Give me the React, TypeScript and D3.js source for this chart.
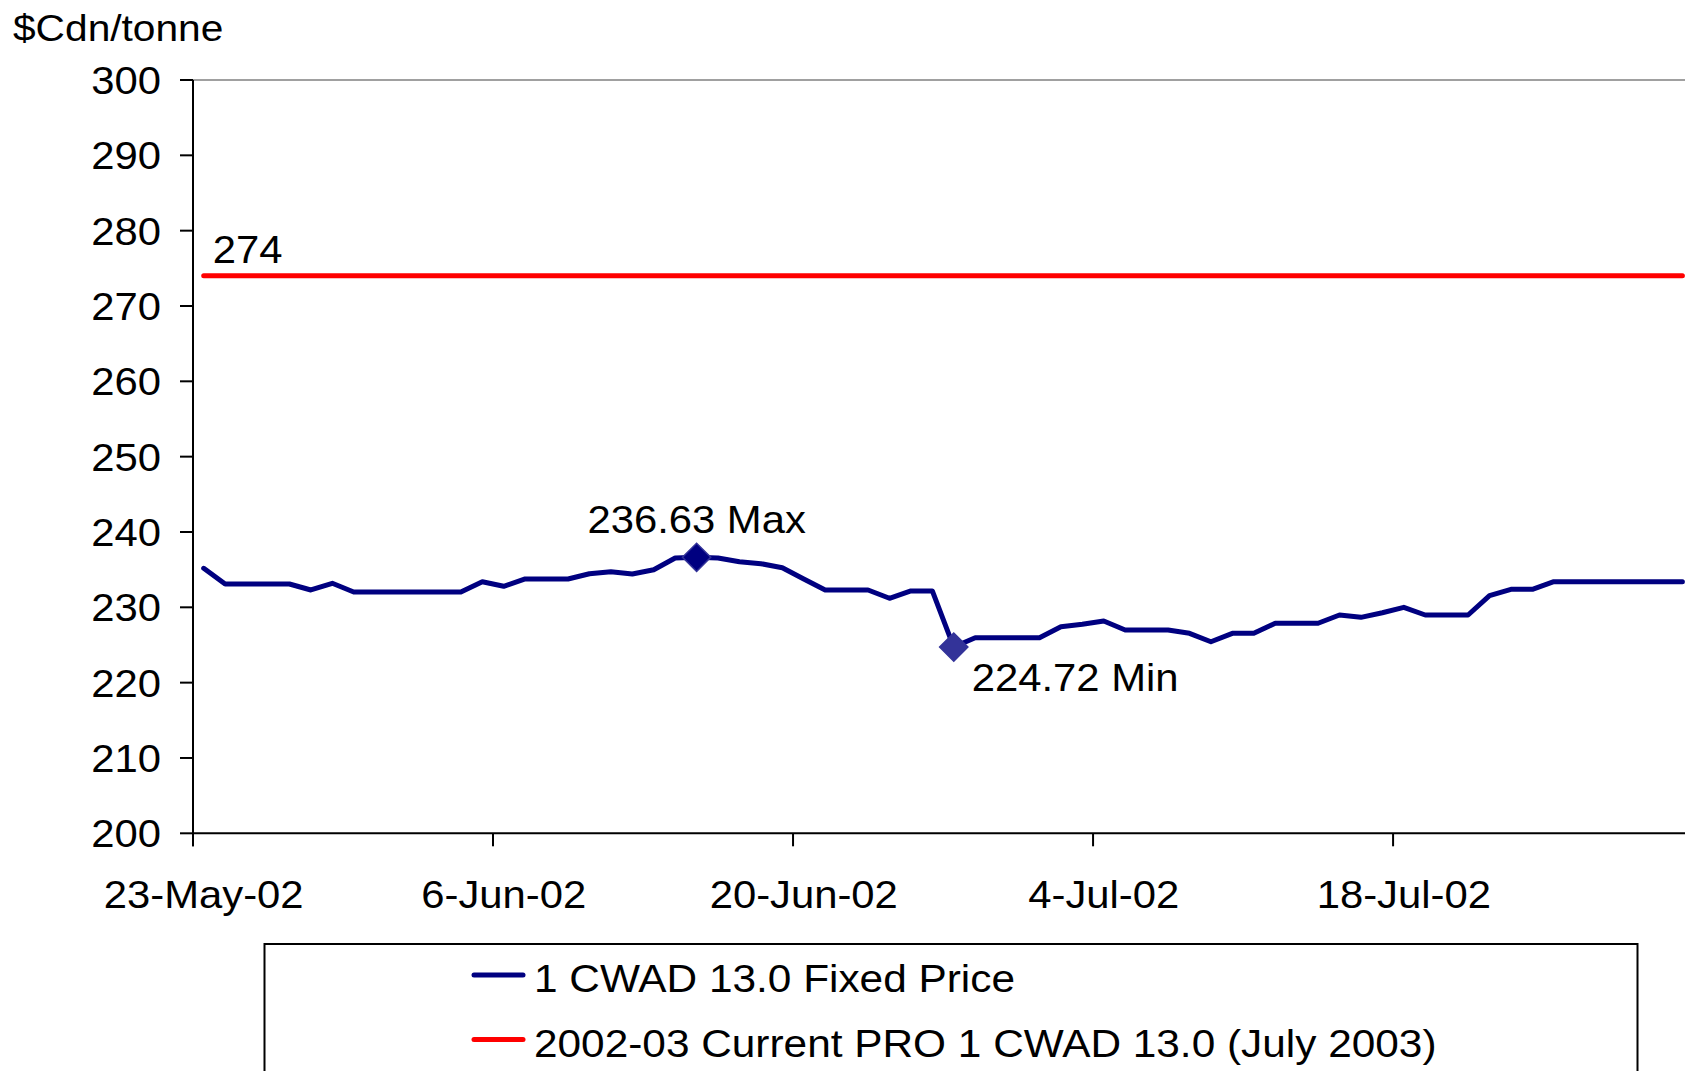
import React, { useEffect, useRef } from 'react';
import * as d3 from 'd3';

// daily fixed price, starting 23-May-02
const startDate = new Date(2002, 4, 23);
const fixedPrice = [
    235.18, 233.09, 233.09, 233.09, 233.09, 232.30, 233.19,
    232.03, 232.03, 232.03, 232.03, 232.03, 232.03, 233.40,
    232.79, 233.76, 233.76, 233.76, 234.46, 234.73, 234.42,
    234.99, 236.55, 236.63, 236.55, 236.05, 235.79, 235.26,
    233.76, 232.30, 232.30, 232.30, 231.20, 232.17, 232.17,
    224.72, 225.97, 225.97, 225.97, 225.97, 227.43, 227.74,
    228.18, 226.99, 226.99, 226.99, 226.55, 225.43, 226.55,
    226.55, 227.88, 227.88, 227.88, 228.98, 228.67, 229.28,
    230.00, 228.98, 228.98, 228.98, 231.54, 232.39, 232.39,
    233.40, 233.40, 233.40, 233.40, 233.40, 233.40, 233.40,
];
const proPrice = 274;
const yTicks = [200, 210, 220, 230, 240, 250, 260, 270, 280, 290, 300];
const xTickDates = ['2002-05-23', '2002-06-06', '2002-06-20', '2002-07-04', '2002-07-18'];
const seriesNames = ['1 CWAD 13.0 Fixed Price', '2002-03 Current PRO 1 CWAD 13.0 (July 2003)'];
const seriesColors = ['#000080', '#ff0000'];

const FONT = '"Liberation Sans", Arial, sans-serif';

const App: React.FC = () => {
    const svgRef = useRef<SVGSVGElement | null>(null);

    useEffect(() => {
        const svg = d3.select(svgRef.current);
        svg.selectAll('*').remove();

        const width = 1685;
        const height = 1071;
        const left = 193;
        const top = 80;
        const bottom = 833.3;
        const dayW = 21.43;
        const nDays = 70;

        const parse = d3.timeParse('%Y-%m-%d');
        const dates = fixedPrice.map((_, i) => d3.timeDay.offset(startDate, i));
        const endDate = d3.timeDay.offset(startDate, nDays);

        const x = d3.scaleTime().domain([startDate, endDate]).range([left, left + nDays * dayW]);
        const y = d3.scaleLinear().domain([200, 300]).range([bottom, top]);
        const xc = (d: Date) => x(d3.timeHour.offset(d, 12));
        const fmt = d3.timeFormat('%-d-%b-%y');

        // text helper, Excel text looks a little wide
        const addText = (g: any, str: string, tx: number, ty: number, anchor: string, size = 38, sx = 1.1) =>
            g.append('text')
                .attr('transform', `translate(${tx},${ty}) scale(${sx},1)`)
                .attr('text-anchor', anchor)
                .attr('font-family', FONT)
                .attr('font-size', size)
                .attr('fill', '#000')
                .text(str);

        svg.append('rect').attr('width', width).attr('height', height).attr('fill', '#fff');

        // plot area top border
        svg.append('line')
            .attr('x1', left).attr('x2', width + 20)
            .attr('y1', top).attr('y2', top)
            .attr('stroke', '#808080').attr('stroke-width', 1.5);

        // y axis
        const yAxis = svg.append('g');
        yAxis.append('line')
            .attr('x1', left).attr('x2', left)
            .attr('y1', top).attr('y2', bottom + 13)
            .attr('stroke', '#000').attr('stroke-width', 2);
        yTicks.forEach(t => {
            yAxis.append('line')
                .attr('x1', left - 13).attr('x2', left)
                .attr('y1', y(t)).attr('y2', y(t))
                .attr('stroke', '#000').attr('stroke-width', 2);
            addText(yAxis, String(t), 161, y(t) + 14, 'end');
        });

        // x axis
        const xAxis = svg.append('g');
        xAxis.append('line')
            .attr('x1', left).attr('x2', width + 20)
            .attr('y1', bottom).attr('y2', bottom)
            .attr('stroke', '#000').attr('stroke-width', 2);
        xTickDates.map(s => parse(s)!).forEach(d => {
            xAxis.append('line')
                .attr('x1', x(d)).attr('x2', x(d))
                .attr('y1', bottom).attr('y2', bottom + 13)
                .attr('stroke', '#000').attr('stroke-width', 2);
            addText(xAxis, fmt(d), xc(d), 908, 'middle');
        });

        addText(svg, '$Cdn/tonne', 13, 41, 'start', 37);

        // PRO line
        const line = d3.line<[Date, number]>().x(d => xc(d[0])).y(d => y(d[1]));
        svg.append('path')
            .datum(dates.map(d => [d, proPrice] as [Date, number]))
            .attr('d', line)
            .attr('fill', 'none')
            .attr('stroke', seriesColors[1])
            .attr('stroke-width', 5)
            .attr('stroke-linecap', 'round');
        addText(svg, String(proPrice), xc(dates[0]) + 9, y(proPrice) - 13, 'start');

        // fixed price line
        svg.append('path')
            .datum(dates.map((d, i) => [d, fixedPrice[i]] as [Date, number]))
            .attr('d', line)
            .attr('fill', 'none')
            .attr('stroke', seriesColors[0])
            .attr('stroke-width', 5)
            .attr('stroke-linejoin', 'round')
            .attr('stroke-linecap', 'round');

        // max / min markers
        const maxI = d3.maxIndex(fixedPrice);
        const minI = d3.minIndex(fixedPrice);
        const diamond = d3.symbol(d3.symbolSquare, 400);
        const marker = (i: number, fill: string) =>
            svg.append('path')
                .attr('d', diamond())
                .attr('transform', `translate(${xc(dates[i])},${y(fixedPrice[i])}) rotate(45)`)
                .attr('fill', fill)
                .attr('stroke', '#333399')
                .attr('stroke-width', 1.5);
        marker(maxI, '#000080');
        marker(minI, '#333399');
        addText(svg, `${fixedPrice[maxI].toFixed(2)} Max`, xc(dates[maxI]), y(fixedPrice[maxI]) - 24, 'middle');
        addText(svg, `${fixedPrice[minI].toFixed(2)} Min`, xc(dates[minI]) + 18, y(fixedPrice[minI]) + 44, 'start');

        // legend
        const lg = svg.append('g');
        lg.append('rect')
            .attr('x', 264.5).attr('y', 944)
            .attr('width', 1637.5 - 264.5).attr('height', 200)
            .attr('fill', '#fff')
            .attr('stroke', '#000').attr('stroke-width', 2);
        seriesNames.forEach((name, i) => {
            const ly = 975 + i * 64.5;
            lg.append('line')
                .attr('x1', 474).attr('x2', 523)
                .attr('y1', ly).attr('y2', ly)
                .attr('stroke', seriesColors[i]).attr('stroke-width', 5)
                .attr('stroke-linecap', 'round');
            addText(lg, name, 534, ly + 17, 'start', 38, 1.115);
        });
    }, []);

    return (
        <svg ref={svgRef} width={1685} height={1071}
            style={{ position: 'absolute', left: 0, top: 0, display: 'block' }} />
    );
};

export default App;
